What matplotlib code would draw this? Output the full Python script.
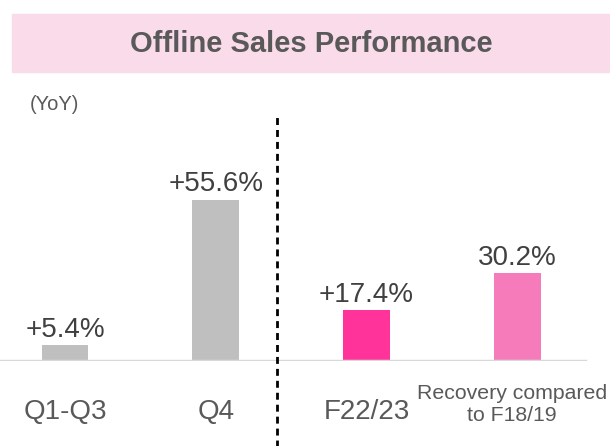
import matplotlib.pyplot as plt
from matplotlib.patches import Rectangle

categories = ['Q1-Q3', 'Q4', 'F22/23', 'Recovery compared\nto F18/19']
values = [5.4, 55.6, 17.4, 30.2]
value_labels = ['+5.4%', '+55.6%', '+17.4%', '30.2%']
bar_colors = ['#BFBFBF', '#BFBFBF', '#FF3399', '#F67BBB']

plt.rcParams['font.family'] = ['Liberation Sans', 'DejaVu Sans']

fig = plt.figure(figsize=(6.10, 4.46), dpi=100)

# title band
fig.patches.append(Rectangle((12 / 610, 1 - 72 / 446), 598 / 610, 58 / 446,
                             transform=fig.transFigure, color='#FADBE9', zorder=0))
fig.text(311 / 610, 1 - 44.5 / 446, 'Offline Sales Performance', ha='center', va='center',
         fontsize=21, fontweight='bold', color='#595959')
fig.text(30 / 610, 1 - 104 / 446, '(YoY)', ha='left', va='center', fontsize=14.5, color='#595959')

ax = fig.add_axes([0, 85 / 446, 1, 270 / 446])
x = range(len(values))
ax.bar(x, values, width=0.31, color=bar_colors, zorder=2)
ax.set_xlim(-0.431, 3.616)
ax.set_ylim(0, 93)
ax.axhline(0, xmin=0, xmax=585 / 610, color='#D9D9D9', lw=2.5, zorder=3)

for i, (v, lab) in enumerate(zip(values, value_labels)):
    ax.annotate(lab, (i, v), xytext=(0, 2), textcoords='offset points',
                ha='center', va='bottom', fontsize=20, color='#404040')

for i, c in enumerate(categories):
    if '\n' in c:
        ax.annotate(c, (i, -15.0), xytext=(-4, 0), textcoords='offset points',
                    ha='center', va='center', fontsize=15.3, color='#595959',
                    linespacing=1.25, annotation_clip=False)
    else:
        ax.text(i, -17.4, c, ha='center', va='center', fontsize=20, color='#595959')

# divider between quarterly and full-year figures
ax.vlines(1.407, -30, 85, colors='black', linestyles=(0, (2.5, 1.8)), lw=2,
          clip_on=False, zorder=4)
ax.axis('off')

fig.savefig('out.png', dpi=100)
